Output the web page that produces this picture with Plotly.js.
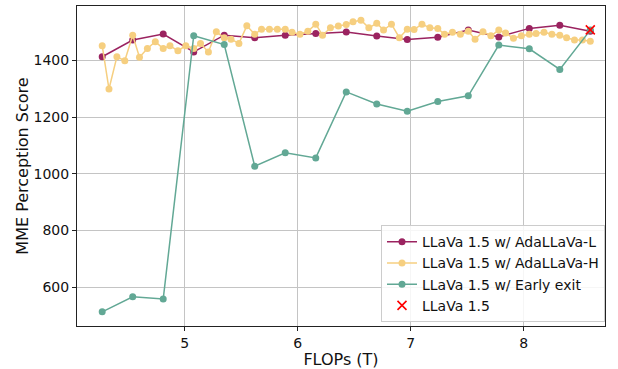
<!DOCTYPE html>
<html>
<head>
<meta charset="utf-8">
<script src="https://cdn.plot.ly/plotly-3.0.1.min.js"></script>
<style>html,body{margin:0;padding:0;background:#fff;}#chart{width:618px;height:369px;}</style>
</head>
<body>
<div id="chart"></div>
<script>
const xL = [4.27,4.54,4.81,5.08,5.35,5.62,5.89,6.16,6.43,6.70,6.97,7.24,7.51,7.78,8.05,8.32,8.59];
const yL = [1413,1472,1493,1430,1489,1480,1489,1495,1500,1486,1474,1482,1507,1483,1513,1524,1503];

const xH = [4.27,4.33,4.40,4.47,4.54,4.60,4.67,4.74,4.81,4.87,4.94,5.01,5.08,5.14,5.21,5.28,5.35,5.41,5.48,5.55,5.62,5.68,5.75,5.82,5.89,5.95,6.02,6.09,6.16,6.22,6.29,6.36,6.43,6.49,6.56,6.63,6.70,6.76,6.83,6.90,6.97,7.03,7.10,7.17,7.24,7.30,7.37,7.44,7.51,7.57,7.64,7.71,7.78,7.84,7.91,7.98,8.05,8.11,8.18,8.25,8.32,8.38,8.45,8.52,8.59];
const yH = [1452,1299,1413,1399,1489,1411,1442,1466,1442,1452,1434,1452,1442,1460,1430,1501,1480,1475,1460,1522,1492,1510,1510,1510,1510,1499,1492,1503,1528,1489,1515,1521,1527,
            1536,1542,1515,1531,1507,1528,1480,1510,1509,1528,1515,1513,1492,1499,1492,1503,1475,1501,1487,1507,1497,1478,1487,1492,1495,1499,1492,1489,1480,1472,1472,1468];

const xE = [4.27,4.54,4.81,5.08,5.35,5.62,5.89,6.16,6.43,6.70,6.97,7.24,7.51,7.78,8.05,8.32,8.59];
const yE = [513,566,558,1487,1456,1027,1074,1056,1289,1246,1221,1255,1275,1454,1441,1368,1507];

const xBase = [8.59];
const yBase = [1508];

const names = ["LLaVa 1.5 w/ AdaLLaVa-L","LLaVa 1.5 w/ AdaLLaVa-H","LLaVa 1.5 w/ Early exit","LLaVa 1.5"];
const xTicks = [5,6,7,8];
const yTicks = [600,800,1000,1200,1400];

const colL = "#9b2360", colH = "#f6cf80", colE = "#62a895";

const traces = [
  {x:xL, y:yL, name:names[0], mode:"lines+markers", line:{color:colL,width:1.5}, marker:{color:colL,size:7}},
  {x:xH, y:yH, name:names[1], mode:"lines+markers", line:{color:colH,width:1.5}, marker:{color:colH,size:7}},
  {x:xE, y:yE, name:names[2], mode:"lines+markers", line:{color:colE,width:1.5}, marker:{color:colE,size:7}},
  {x:xBase, y:yBase, name:names[3], mode:"markers", marker:{symbol:"x-thin",color:"red",size:9,line:{color:"red",width:1.6}}}
];

const axisCommon = {
  showline:true, linecolor:"#222", linewidth:1, mirror:true,
  ticks:"outside", ticklen:4, tickcolor:"#222", tickwidth:1,
  showgrid:true, gridcolor:"#c4c4c4", gridwidth:1, zeroline:false,
  tickfont:{family:"DejaVu Sans", size:14, color:"#111"}
};

const layout = {
  width:618, height:369,
  margin:{l:77,r:13,t:6,b:43},
  font:{family:"DejaVu Sans, sans-serif", color:"#111", size:14},
  paper_bgcolor:"#fff", plot_bgcolor:"#fff",
  xaxis:Object.assign({}, axisCommon, {range:[4.047,8.72], tickvals:xTicks, ticktext:xTicks.map(String),
        title:{text:"FLOPs (T)", font:{size:16}, standoff:4}}),
  yaxis:Object.assign({}, axisCommon, {range:[463,1592], tickvals:yTicks, ticktext:yTicks.map(String),
        title:{text:"MME Perception Score", font:{size:16}, standoff:0}}),
  showlegend:true,
  legend:{x:1, y:0.012, xanchor:"right", yanchor:"bottom", bgcolor:"rgba(255,255,255,0.85)",
          bordercolor:"#cccccc", borderwidth:1, font:{size:14}, itemwidth:30, tracegroupgap:0}
};

Plotly.newPlot("chart", traces, layout, {displayModeBar:false, staticPlot:true});
</script>
</body>
</html>
